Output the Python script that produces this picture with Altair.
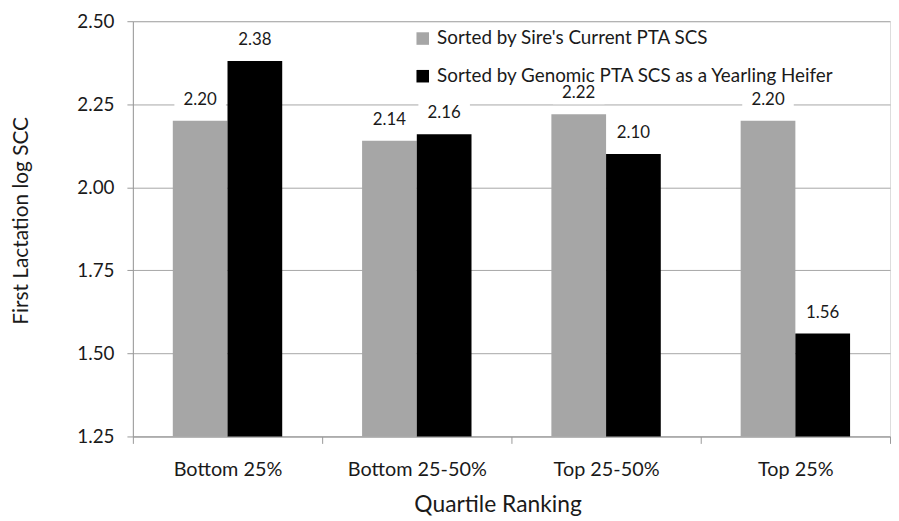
import altair as alt
import pandas as pd

categories = ["Bottom 25%", "Bottom 25-50%", "Top 25-50%", "Top 25%"]
series = ["Sorted by Sire's Current PTA SCS", "Sorted by Genomic PTA SCS as a Yearling Heifer"]
sire_vals = [2.20, 2.14, 2.22, 2.20]
genomic_vals = [2.38, 2.16, 2.10, 1.56]
y_ticks = [1.25, 1.50, 1.75, 2.00, 2.25, 2.50]

rows = []
for c, a, b in zip(categories, sire_vals, genomic_vals):
    rows.append({"cat": c, "series": series[0], "val": a, "base": 1.25})
    rows.append({"cat": c, "series": series[1], "val": b, "base": 1.25})
df = pd.DataFrame(rows)

FONT = "Lato"
TXT = "#1a1a1a"
W, H = 764, 419

x = alt.X("cat:N", sort=categories, title="Quartile Ranking",
          scale=alt.Scale(paddingInner=0, paddingOuter=0),
          axis=alt.Axis(labelAngle=0, tickBand="extent", labelAlign="center", labelFontSize=20,
                        titleFontSize=23, labelColor=TXT, titleColor=TXT, labelFont=FONT,
                        titleFont=FONT, labelPadding=26, tickSize=7, tickColor="#999",
                        domainColor="#999", titleX=368, titleY=69, titleAnchor="middle",
                        titleBaseline="middle", titleFontWeight="normal"))
xo = alt.XOffset("series:N", sort=series, scale=alt.Scale(paddingOuter=0.73, paddingInner=0))
y = alt.Y("val:Q", title="First Lactation log SCC",
          scale=alt.Scale(domain=[1.25, 2.5], zero=False, nice=False),
          axis=alt.Axis(values=y_ticks, format=".2f", grid=True, gridColor="#a6a6a6",
                        domainColor="#999", tickColor="#999", tickSize=6, labelPadding=13,
                        labelFontSize=19, titleFontSize=21, labelColor=TXT, titleColor=TXT,
                        labelFont=FONT, titleFont=FONT, titleFontWeight="normal",
                        titleX=-112, titleY=201, titleAngle=270, titleAlign="center",
                        titleBaseline="middle"))

base = alt.Chart(df)

bars = base.mark_bar(stroke=None).encode(
    x=x, xOffset=xo, y=y, y2="base:Q",
    color=alt.Color("series:N", sort=series,
                    scale=alt.Scale(domain=series, range=["#a6a6a6", "#000000"]),
                    legend=alt.Legend(title=None, orient="none", legendX=283, legendY=8,
                                      symbolType="square", symbolSize=160, symbolStrokeWidth=0,
                                      labelFontSize=19, labelFont=FONT, labelColor=TXT,
                                      labelLimit=700, rowPadding=18, labelOffset=5,
                                      padding=0)),
)

boxes = base.mark_tick(color="white", size=52, thickness=22, yOffset=-21, opacity=1).encode(
    x=alt.X("cat:N", sort=categories), xOffset=alt.XOffset("series:N", sort=series), y="val:Q"
)

labels = base.mark_text(baseline="middle", dy=-21, fontSize=17, font=FONT, color=TXT).encode(
    x=alt.X("cat:N", sort=categories), xOffset=alt.XOffset("series:N", sort=series), y="val:Q",
    text=alt.Text("val:Q", format=".2f")
)

chart = alt.layer(boxes, bars, labels).properties(
    width=W, height=H,
    autosize=alt.AutoSizeParams(type="none"),
    padding={"left": 126, "top": 11, "right": 1, "bottom": 84},
).configure_view(stroke=None).configure(background="white")

chart.save("out.html", embed_options={"renderer": "svg", "actions": False})
